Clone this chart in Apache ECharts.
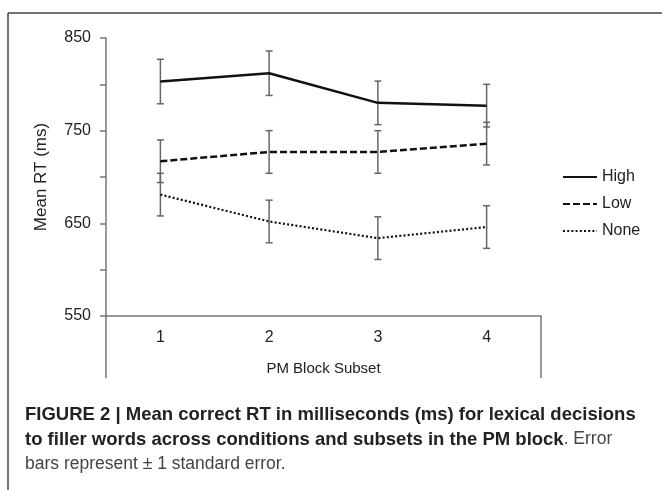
<!DOCTYPE html>
<html>
<head>
<meta charset="utf-8">
<script src="https://cdn.jsdelivr.net/npm/echarts@6/dist/echarts.min.js"></script>
<style>
  html, body { margin: 0; padding: 0; background: #fff; }
  #chart { width: 662px; height: 490px; }
</style>
</head>
<body>
<div id="chart"></div>
<script>
// ---- data ----
var categories = ['1', '2', '3', '4'];
var seriesNames = ['High', 'Low', 'None'];
var highMean = [803, 812, 780, 777];
var highSE   = [24, 24, 23.5, 23];
var lowMean  = [717, 727, 727, 736];
var lowSE    = [23, 23, 23, 23];
var noneMean = [681, 652, 634, 646];
var noneSE   = [23, 23, 23, 23];
var yTickLabels = [550, 650, 750, 850];

var means = [highMean, lowMean, noneMean];
var ses = [highSE, lowSE, noneSE];
var lineTypes = ['solid', [7, 3], [2, 2.2]];
var lineWidths = [2.5, 2.5, 2.2];

var chart = echarts.init(document.getElementById('chart'), null, { renderer: 'canvas' });

var series = [];
// error bars
means.forEach(function (m, s) {
  series.push({
    name: seriesNames[s] + ' SE',
    type: 'custom',
    z: 1,
    silent: true,
    data: m.map(function (v, i) { return [i, v - ses[s][i], v + ses[s][i]]; }),
    renderItem: function (params, api) {
      var lo = api.coord([api.value(0), api.value(1)]);
      var hi = api.coord([api.value(0), api.value(2)]);
      var hw = 3.5;
      var st = { stroke: '#666', lineWidth: 1.5 };
      return {
        type: 'group',
        children: [
          { type: 'line', shape: { x1: lo[0], y1: lo[1], x2: hi[0], y2: hi[1] }, style: st },
          { type: 'line', shape: { x1: lo[0] - hw, y1: lo[1], x2: lo[0] + hw, y2: lo[1] }, style: st },
          { type: 'line', shape: { x1: hi[0] - hw, y1: hi[1], x2: hi[0] + hw, y2: hi[1] }, style: st }
        ]
      };
    }
  });
});
// lines
means.forEach(function (m, s) {
  series.push({
    name: seriesNames[s],
    type: 'line',
    z: 3,
    data: m,
    symbol: 'none',
    lineStyle: { color: '#111', width: lineWidths[s], type: lineTypes[s] },
    itemStyle: { color: '#111' }
  });
});

chart.setOption({
  animation: false,
  backgroundColor: '#fff',
  textStyle: { fontFamily: 'Liberation Sans, Arial, sans-serif' },
  grid: { left: 106, right: 121, top: 38, bottom: 174, containLabel: false },
  legend: {
    data: seriesNames,
    orient: 'vertical',
    left: 557,
    top: 164,
    itemWidth: 34,
    itemHeight: 14,
    itemGap: 11,
    itemStyle: { opacity: 0 },
    textStyle: { fontSize: 16, color: '#222', fontFamily: 'Liberation Sans, Arial, sans-serif' }
  },
  xAxis: {
    type: 'category',
    data: categories,
    boundaryGap: true,
    name: 'PM Block Subset',
    nameLocation: 'middle',
    nameGap: 45,
    nameTextStyle: { fontSize: 15, color: '#222' },
    axisLine: { lineStyle: { color: '#777', width: 1.5 } },
    axisTick: { show: true, length: 62, interval: function (i) { return i === 0; }, lineStyle: { color: '#777', width: 1.5 } },
    axisLabel: { fontSize: 16, color: '#222', margin: 14 }
  },
  yAxis: {
    type: 'value',
    min: 550,
    max: 850,
    interval: 50,
    name: 'Mean RT (ms)',
    nameLocation: 'middle',
    nameGap: 56,
    nameTextStyle: { fontSize: 17, color: '#222' },
    axisLine: { show: true, lineStyle: { color: '#777', width: 1.5 } },
    axisTick: { show: true, length: 6, lineStyle: { color: '#777', width: 1.5 } },
    splitLine: { show: false },
    axisLabel: {
      fontSize: 16, color: '#222', margin: 15,
      formatter: function (v) { return yTickLabels.indexOf(v) >= 0 ? String(v) : ''; }
    }
  },
  title: {
    left: 20,
    top: 397,
    text: '{b|FIGURE 2 | Mean correct RT in milliseconds (ms) for lexical decisions}\n{b|to filler words across conditions and subsets in the PM block}{n|. Error}\n{n|bars represent \u00b1 1 standard error.}',
    textStyle: {
      rich: {
        b: { fontFamily: 'Liberation Sans', fontWeight: 'bold', fontSize: 18.5, color: '#222', lineHeight: 25 },
        n: { fontFamily: 'Liberation Sans', fontWeight: 'normal', fontSize: 17.5, color: '#444', lineHeight: 25 }
      }
    }
  },
  graphic: [
    { type: 'line', silent: true, shape: { x1: 8, y1: 13, x2: 662, y2: 13 }, style: { stroke: '#444', lineWidth: 1.5 } },
    { type: 'line', silent: true, shape: { x1: 8, y1: 13, x2: 8, y2: 490 }, style: { stroke: '#444', lineWidth: 1.5 } }
  ],
  series: series
});
</script>
</body>
</html>
